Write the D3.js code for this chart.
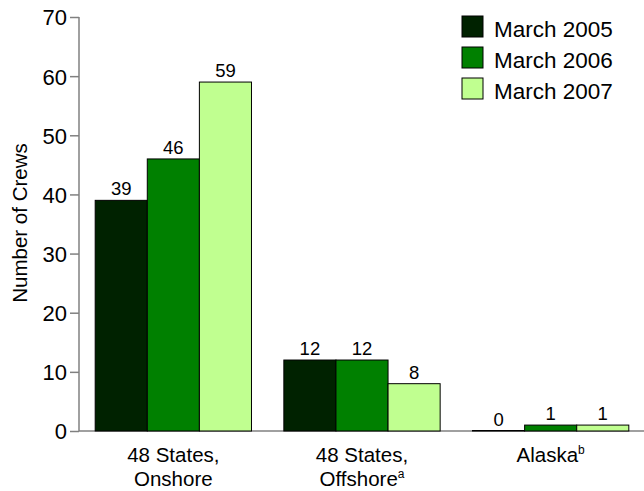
<!DOCTYPE html>
<html>
<head>
<meta charset="utf-8">
<script src="https://cdn.jsdelivr.net/npm/d3@7"></script>
<style>
  body { margin: 0; background: #fff; }
  svg { display: block; font-family: "Liberation Sans", Arial, sans-serif; }
  svg text { font-family: "Liberation Sans", Arial, sans-serif; }
</style>
</head>
<body>
<svg id="chart" width="644" height="491"></svg>
<script>
const categories = ["onshore", "offshore", "alaska"];
const categoryLines = [["48 States,", "Onshore"], ["48 States,", "Offshore", "a"], ["Alaska", "b"]];
const seriesNames = ["March 2005", "March 2006", "March 2007"];
const seriesColors = ["#002200", "#008000", "#c0ff90"];
const values2005 = [39, 12, 0];
const values2006 = [46, 12, 1];
const values2007 = [59, 8, 1];
const yTicks = [0, 10, 20, 30, 40, 50, 60, 70];
const seriesValues = [values2005, values2006, values2007];

const svg = d3.select("#chart");
const axisColor = "#808080";

const x0 = d3.scaleBand().domain(categories).range([79, 645]).paddingInner(0.1716).paddingOuter(0.0858);
const x1 = d3.scaleBand().domain(seriesNames).range([0, x0.bandwidth()]);
const y = d3.scaleLinear().domain([0, 70]).range([431, 17]);

// y axis
const yAxis = svg.append("g").attr("transform", "translate(79,0)")
  .call(d3.axisLeft(y).tickValues(yTicks).tickSize(9).tickPadding(3).tickFormat(d3.format("d")));
yAxis.attr("font-family", null).attr("font-size", null);
yAxis.select(".domain").attr("stroke", axisColor).attr("stroke-width", 1.5).attr("d", `M0,${y(70)}V${y(0)}`);
yAxis.selectAll(".tick line").attr("stroke", axisColor).attr("stroke-width", 1.5);
yAxis.selectAll(".tick text").attr("fill", "#000").attr("font-size", 22).attr("dy", "0.36em");

// y title
svg.append("text")
  .attr("transform", `translate(27,223) rotate(-90)`)
  .attr("text-anchor", "middle").attr("font-size", 20.5).attr("fill", "#000")
  .text("Number of Crews");

// bars
const groups = svg.append("g").selectAll("g").data(categories).join("g")
  .attr("transform", d => `translate(${x0(d)},0)`);
groups.each(function(cat, ci) {
  const g = d3.select(this);
  const rows = seriesNames.map((s, si) => ({ s, si, v: seriesValues[si][ci] }));
  g.selectAll("rect").data(rows).join("rect")
    .attr("x", d => x1(d.s)).attr("width", x1.bandwidth())
    .attr("y", d => Math.min(y(d.v), y(0) - 0.5)).attr("height", d => Math.max(0.5, y(0) - y(d.v)))
    .attr("fill", d => seriesColors[d.si]).attr("stroke", "#000").attr("stroke-width", 1);
  g.selectAll("text.val").data(rows).join("text").attr("class", "val")
    .attr("x", d => x1(d.s) + x1.bandwidth() / 2).attr("y", d => y(d.v) - 5)
    .attr("text-anchor", "middle").attr("font-size", 18.5).attr("fill", "#000")
    .text(d => d.v);
});

// x baseline
svg.insert("line", "g").attr("x1", 79).attr("x2", 644).attr("y1", y(0)).attr("y2", y(0))
  .attr("stroke", axisColor).attr("stroke-width", 1.5);

// category labels
categories.forEach((c, i) => {
  const cx = x0(c) + x0.bandwidth() / 2;
  const lines = categoryLines[i];
  const t = svg.append("text").attr("text-anchor", "middle").attr("font-size", 20.5).attr("fill", "#000");
  if (i === 0) {
    t.append("tspan").attr("x", cx).attr("y", 462).text(lines[0]);
    t.append("tspan").attr("x", cx).attr("y", 486).text(lines[1]);
  } else if (i === 1) {
    t.append("tspan").attr("x", cx).attr("y", 462).text(lines[0]);
    const t2 = svg.append("text").attr("text-anchor", "middle").attr("font-size", 20.5).attr("fill", "#000")
      .attr("x", cx).attr("y", 486);
    t2.append("tspan").text(lines[1]);
    t2.append("tspan").attr("font-size", 12).attr("dy", -8).text(lines[2]);
  } else {
    t.attr("x", cx).attr("y", 462);
    t.append("tspan").text(lines[0]);
    t.append("tspan").attr("font-size", 12).attr("dy", -8).text(lines[1]);
  }
});

// legend
const legend = svg.append("g").attr("transform", "translate(462,16)");
seriesNames.forEach((s, i) => {
  const g = legend.append("g").attr("transform", `translate(0,${i * 31})`);
  g.append("rect").attr("width", 21).attr("height", 21).attr("fill", seriesColors[i]).attr("stroke", "#000").attr("stroke-width", 1);
  g.append("text").attr("x", 32).attr("y", 20.5).attr("font-size", 22.5).attr("fill", "#000").text(s);
});
</script>
</body>
</html>
